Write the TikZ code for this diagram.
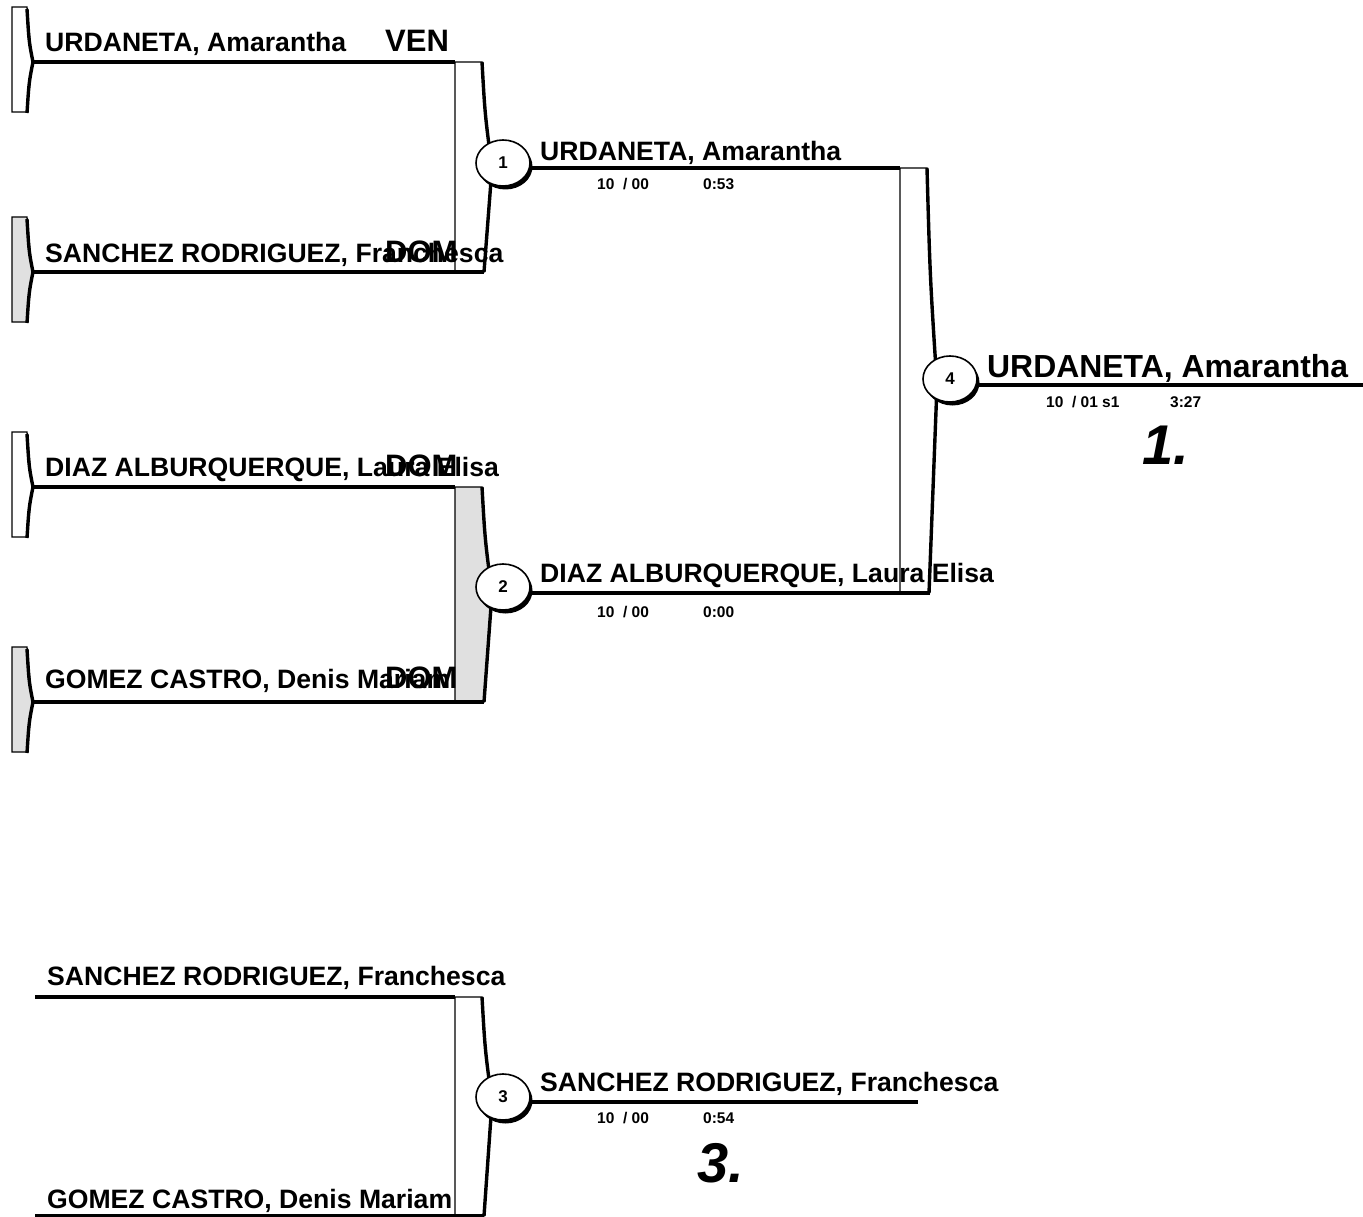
\documentclass[tikz,border=0pt]{standalone}
\usepackage{fontspec}
\setmainfont{Liberation Sans}
\usetikzlibrary{calc,positioning,shapes.geometric,shadows}
\definecolor{grey}{gray}{0.88}

\begin{document}
\begin{tikzpicture}[x=1pt,y=-1pt]

\tikzset{namenode/.style={font=\bfseries\fontsize{26.6}{30}\selectfont,anchor=base west,inner sep=0pt},
bignamenode/.style={font=\bfseries\fontsize{31.9}{36}\selectfont,anchor=base west,inner sep=0pt},
nationnode/.style={font=\bfseries\fontsize{31}{35}\selectfont,anchor=base west,inner sep=0pt},
scorenode/.style={font=\bfseries\fontsize{15.5}{18}\selectfont,anchor=base west,inner sep=0pt},
placenode/.style={font=\bfseries\itshape\fontsize{56}{60}\selectfont,inner sep=0pt},
boutnode/.style={shape=ellipse,draw,line width=1.6pt,fill=white,minimum width=54pt,minimum height=46pt,inner sep=0pt,font=\bfseries\fontsize{17}{19}\selectfont,drop shadow={opacity=1,fill=black,shadow xshift=2.5pt,shadow yshift=-3.5pt}},
heavyline/.style={line width=3.4pt},
thinline/.style={line width=1.3pt}}

\useasboundingbox (0,0) rectangle (1363,1217);

% Seed brackets
\foreach \i/\y/\col in {1/62/white,2/272/grey,3/487/white,4/702/grey}
 {\filldraw[thinline,fill=\col] (12,\y-55) -- (27,\y-55) -- (32,\y) -- (27,\y+50) -- (12,\y+50) -- cycle;
  \draw[heavyline] (27,\y-53) .. controls (29,\y-20) .. (33,\y) .. controls (29,\y+20) .. (27,\y+51);
  \coordinate (s\i) at (33,\y);}

% Bout brackets
\foreach \xl/\ya/\yc/\yb/\col in {455/62/168/272/white, 455/487/593/702/grey, 900/168/385/593/white, 455/997/1102/1216/white}
 {\filldraw[thinline,fill=\col] (\xl,\ya) -- (\xl+27,\ya) .. controls (\xl+30,{\ya+0.5*(\yc-\ya)}) .. (\xl+37,\yc) .. controls (\xl+33,{\yc+0.5*(\yb-\yc)}) .. (\xl+29,\yb) -- (\xl,\yb) -- cycle;
  \draw[heavyline,line join=round] (\xl+27,\ya) .. controls (\xl+30,{\ya+0.5*(\yc-\ya)}) .. (\xl+37,\yc) .. controls (\xl+33,{\yc+0.5*(\yb-\yc)}) .. (\xl+29,\yb);}

% Bracket corners and free ends
\coordinate (k1) at (455,62); \coordinate (k2) at (484,272);
\coordinate (k3) at (455,487); \coordinate (k4) at (484,702);
\coordinate (k5) at (900,168); \coordinate (k6) at (930,593);
\coordinate (k7) at (455,997); \coordinate (k8) at (484,1216);
\coordinate (q1) at (35,997); \coordinate (q2) at (35,1216);
\coordinate (e4) at (1363,385); \coordinate (e3) at (918,1102);

% Bouts
\node[boutnode] (b1) at (503,163) {1};
\node[boutnode] (b2) at (503,587) {2};
\node[boutnode] (b4) at (950,379) {4};
\node[boutnode] (b3) at (503,1097) {3};

% Edges
\foreach \i/\j in {1/1,2/2,3/3,4/4} \draw[heavyline] (s\i) -- (k\j);
\draw[heavyline] (b1.east |- k5) -- (k5); \draw[heavyline] (b2.east |- k6) -- (k6);
\draw[heavyline] (b4.east |- e4) -- (e4); \draw[heavyline] (b3.east |- e3) -- (e3);
\draw[heavyline] (q1) -- (k7); \draw[heavyline] (q2) -- (k8);

% Seed names
\node[namenode] (n1) at (45,52) {URDANETA, Amarantha};
\node[namenode] (n2) at (45,262) {SANCHEZ RODRIGUEZ, Franchesca};
\node[namenode] (n3) at (45,476) {DIAZ ALBURQUERQUE, Laura Elisa};
\node[namenode] (n4) at (45,688) {GOMEZ CASTRO, Denis Mariam};
\node[nationnode] (c1) at (385,52) {VEN};
\node[nationnode] (c2) at (385,262) {DOM};
\node[nationnode] (c3) at (385,476) {DOM};
\node[nationnode] (c4) at (385,688) {DOM};

% Winners
\node[namenode] (w1) at (540,161) {URDANETA, Amarantha};
\node[namenode] (w2) at (540,582) {DIAZ ALBURQUERQUE, Laura Elisa};
\node[bignamenode] (w4) at (987,377) {URDANETA, Amarantha};
\node[namenode] (w3) at (540,1091) {SANCHEZ RODRIGUEZ, Franchesca};

% Third place bout
\node[namenode] (m1) at (47,985) {SANCHEZ RODRIGUEZ, Franchesca};
\node[namenode] (m2) at (47,1208) {GOMEZ CASTRO, Denis Mariam};

% Scores and times
\node[scorenode] (p1) at (597,190) {10\ \ / 00}; \node[scorenode] (t1) at (703,190) {0:53};
\node[scorenode] (p2) at (597,617) {10\ \ / 00}; \node[scorenode] (t2) at (703,617) {0:00};
\node[scorenode] (p4) at (1046,407) {10\ \ / 01 s1}; \node[scorenode] (t4) at (1170,407) {3:27};
\node[scorenode] (p3) at (597,1123) {10\ \ / 00}; \node[scorenode] (t3) at (703,1123) {0:54};

% Places
\node[placenode] (r1) at (1166,445) {1.};
\node[placenode] (r3) at (721,1163) {3.};

\end{tikzpicture}
\end{document}
